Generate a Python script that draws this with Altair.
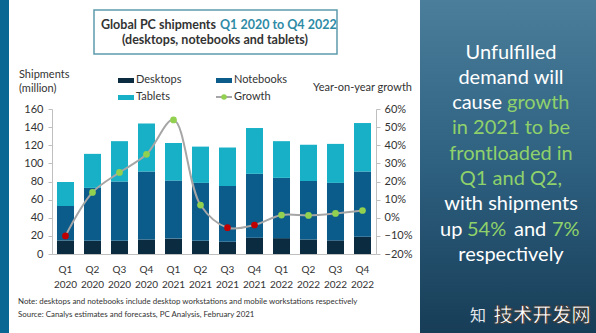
import altair as alt
import pandas as pd

quarters = ["Q1 2020", "Q2 2020", "Q3 2020", "Q4 2020", "Q1 2021", "Q2 2021",
            "Q3 2021", "Q4 2021", "Q1 2022", "Q2 2022", "Q3 2022", "Q4 2022"]
desktops = [15, 14.5, 14.5, 16, 17, 14.5, 13.5, 18, 17.5, 16, 15, 19]
notebooks = [38, 58.5, 65.5, 75, 64, 64, 61.5, 70.5, 66.5, 64.5, 63.5, 72]
tablets = [26.5, 37.5, 44.5, 53, 41.5, 40, 42.5, 50.5, 40.5, 40, 43, 53.5]
growth = [-10, 14, 25, 35, 54, 7, -5.5, -4, 1.5, 1.3, 2.4, 4]  # percent

series_names = ["Desktops", "Notebooks", "Tablets"]
series_colors = ["#0B2B40", "#0B5C8A", "#17B0C6"]

rows = []
for i, q in enumerate(quarters):
    for k, (name, vals) in enumerate(zip(series_names, [desktops, notebooks, tablets])):
        rows.append({"quarter": q, "type": name, "value": vals[i], "order": k})
bars_df = pd.DataFrame(rows)
growth_df = pd.DataFrame({"quarter": quarters, "growth": [g / 100 for g in growth],
                          "sign": ["neg" if g < 0 else "pos" for g in growth]})
one = pd.DataFrame({"a": [0]})

OX, OY = 52, 109  # plot origin in page pixels
FONT = "Lato"

xenc = alt.X("quarter:N", sort=quarters, title=None,
             scale=alt.Scale(paddingInner=0.37, paddingOuter=0.185),
             axis=alt.Axis(labelExpr="split(datum.value, ' ')", labelAngle=0,
                           domainColor="#bfbfbf", ticks=False, labelPadding=10,
                           labelFontSize=10, labelColor="#333333", labelFont=FONT,
                           labelLineHeight=15))

bars = alt.Chart(bars_df).mark_bar().encode(
    x=xenc,
    y=alt.Y("value:Q", stack="zero", title=None,
            scale=alt.Scale(domain=[0, 160], nice=False),
            axis=alt.Axis(values=list(range(0, 161, 20)), domainColor="#bfbfbf",
                          tickColor="#bfbfbf", tickSize=4, labelPadding=5, grid=False,
                          labelFontSize=11, labelColor="#333333", labelFont=FONT)),
    color=alt.Color("type:N", scale=alt.Scale(domain=series_names, range=series_colors),
                    legend=None),
    order=alt.Order("order:Q", sort="ascending"),
)

yg = alt.Y("growth:Q", title=None,
           scale=alt.Scale(domain=[-0.2, 0.6], nice=False),
           axis=alt.Axis(orient="right", format=".0%",
                         values=[-0.2, -0.1, 0, 0.1, 0.2, 0.3, 0.4, 0.5, 0.6],
                         domainColor="#bfbfbf", tickColor="#bfbfbf", tickSize=4,
                         labelPadding=4, grid=False, labelFontSize=11,
                         labelColor="#333333", labelFont=FONT))

line = alt.Chart(growth_df).mark_line(color="#A6A6A6", strokeWidth=2,
                                      interpolate="catmull-rom").encode(
    x=alt.X("quarter:N", sort=quarters), y=yg)
pts = alt.Chart(growth_df).mark_point(filled=True, size=45, opacity=1).encode(
    x=alt.X("quarter:N", sort=quarters), y=yg,
    color=alt.Color("sign:N", scale=alt.Scale(domain=["neg", "pos"],
                                              range=["#C00000", "#92D050"]), legend=None))

growth_layer = alt.layer(line, pts)


def rect(x1, x2, y1, y2, fill, stroke=None, sw=0):
    kw = dict(fill=fill)
    if stroke:
        kw.update(stroke=stroke, strokeWidth=sw)
    return alt.Chart(one).mark_rect(**kw).encode(
        x=alt.value(x1 - OX), x2=alt.value(x2 - OX),
        y=alt.value(y1 - OY), y2=alt.value(y2 - OY))


def txt(s, x, y, size=11, color="#333333", weight="normal", align="left", font=FONT, **kw):
    return alt.Chart(one).mark_text(text=s, align=align, baseline="middle", fontSize=size,
                                    color=color, fontWeight=weight, font=font, **kw).encode(
        x=alt.value(x - OX), y=alt.value(y - OY))


panel_grad = alt.Gradient(gradient="linear", x1=0, x2=0, y1=0, y2=1, stops=[
    alt.GradientStop(offset=0, color="#4A7E9A"),
    alt.GradientStop(offset=0.5, color="#2E6080"),
    alt.GradientStop(offset=1, color="#173D57")])

deco = [
    rect(0, 9, 0, 333, "#0A6794"),
    alt.Chart(one).mark_rect(fill=panel_grad).encode(
        x=alt.value(420 - OX), x2=alt.value(596 - OX),
        y=alt.value(0 - OY), y2=alt.value(333 - OY)),
    rect(94, 337, 10, 54, "transparent", "#5D9AAB", 1.5),
    txt("Global PC shipments", 216, 25, size=12.5, weight="bold", align="right"),
    txt("Q1 2020 to Q4 2022", 220, 25, size=12.5, weight="bold", color="#2E8BA6"),
    txt("(desktops, notebooks and tablets)", 215, 40, size=12.5, weight="bold", align="center"),
    txt("Shipments", 19, 75),
    txt("(million)", 19, 89),
    txt("Year-on-year growth", 412, 88, align="right"),
    rect(118, 134, 78, 83, series_colors[0]),
    txt("Desktops", 136, 80),
    rect(216, 232, 78, 83, series_colors[1]),
    txt("Notebooks", 234, 80),
    rect(118, 134, 95, 100, series_colors[2]),
    txt("Tablets", 136, 97),
    alt.Chart(one).mark_rule(color="#A6A6A6", strokeWidth=2).encode(
        x=alt.value(216 - OX), x2=alt.value(232 - OX), y=alt.value(97 - OY)),
    alt.Chart(one).mark_point(filled=True, size=30, color="#92D050", opacity=1).encode(
        x=alt.value(224 - OX), y=alt.value(97 - OY)),
    txt("Growth", 234, 97),
    txt("Note: desktops and notebooks include desktop workstations and mobile workstations respectively",
        18, 302, size=7.9),
    txt("Source: Canalys estimates and forecasts, PC Analysis, February 2021", 18, 315, size=7.9),
]

WHITE = "#FFFFFF"
GREEN = "#8FD16A"
RS = 20
panel_text = [
    txt("Unfulfilled", 511, 53, size=RS, color=WHITE, align="center"),
    txt("demand will", 511, 78, size=RS, color=WHITE, align="center"),
    txt("cause", 502, 103, size=RS, color=WHITE, align="right"),
    txt("growth", 507, 103, size=RS, color=GREEN, align="left"),
    txt("in 2021 to be", 511, 128, size=RS, color=GREEN, align="center"),
    txt("frontloaded in", 511, 154, size=RS, color=GREEN, align="center"),
    txt("Q1 and Q2,", 511, 179, size=RS, color=GREEN, align="center"),
    txt("with shipments", 511, 204, size=RS, color=WHITE, align="center"),
    txt("up", 440, 230, size=RS, color=WHITE),
    txt("54%", 467, 230, size=RS, color=GREEN),
    txt("and", 514, 230, size=RS, color=WHITE),
    txt("7%", 552, 230, size=RS, color=GREEN),
    txt("respectively", 511, 255, size=RS, color=WHITE, align="center"),
    txt("知", 478, 316, size=16, color="#E0E6EA", align="center", font="Noto Sans CJK SC"),
    txt("技术开发网", 542, 316, size=19.5, color="#FFFFFF", weight="bold", align="center",
        font="Noto Sans CJK SC", stroke="#3A3A3A", strokeWidth=1),
]

main = alt.layer(bars, growth_layer).resolve_scale(y="independent", color="independent")

chart = alt.layer(*deco[:2], main, *deco[2:], *panel_text).properties(
    width=324, height=145,
    autosize=alt.AutoSizeParams(type="none"),
    padding={"left": OX, "top": OY, "right": 596 - OX - 324, "bottom": 333 - OY - 145},
    background="white",
).configure_view(stroke=None)

chart.save("out.html", embed_options={"renderer": "svg", "actions": False})
